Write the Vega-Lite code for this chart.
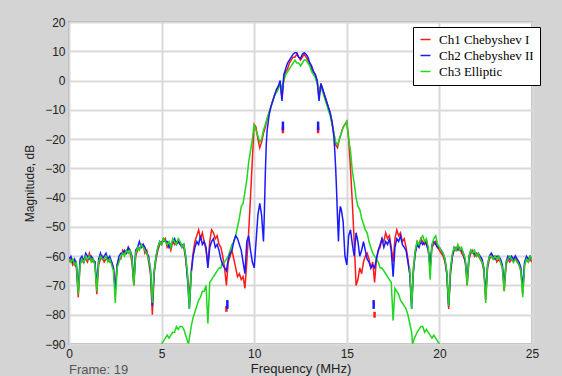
{
"$schema": "https://vega.github.io/schema/vega-lite/v6.json",
"width": 463, "height": 322,
"autosize": {"type": "none"},
"padding": {"left": 69, "top": 22, "right": 30, "bottom": 32},
"background": "#d4d4d4",
"title": {"text": "Frame: 19", "orient": "bottom", "anchor": "start", "frame": "group", "font": "Liberation Sans", "fontSize": 13, "fontWeight": "normal", "color": "#555555", "offset": -11},
"config": {
  "view": {"fill": "white", "stroke": "#9a9a9a", "strokeWidth": 1.5},
  "axis": {"grid": true, "gridColor": "#d9d9d9", "gridWidth": 2, "ticks": false, "domain": false, "labelFont": "Liberation Sans", "labelFontSize": 12, "labelColor": "#222222", "titleFont": "Liberation Sans", "titleFontWeight": "normal", "titleColor": "#222222", "labelFlush": false, "labelPadding": 4}
},
"datasets": {
"red": [
{"f":0,"v":-62},{"f":0.1,"v":-61},{"f":0.2,"v":-63},{"f":0.3,"v":-62},{"f":0.4,"v":-64},{"f":0.5,"v":-74},{"f":0.6,"v":-62},{"f":0.7,"v":-62},{"f":0.8,"v":-61},{"f":0.9,"v":-61},
{"f":1,"v":-62},{"f":1.1,"v":-59},{"f":1.2,"v":-61},{"f":1.3,"v":-62},{"f":1.4,"v":-62},{"f":1.5,"v":-73},{"f":1.6,"v":-63},{"f":1.7,"v":-61},{"f":1.8,"v":-60},{"f":1.9,"v":-62},
{"f":2,"v":-61},{"f":2.1,"v":-61},{"f":2.2,"v":-62},{"f":2.3,"v":-62},{"f":2.4,"v":-64},{"f":2.5,"v":-71},{"f":2.6,"v":-63},{"f":2.7,"v":-61},{"f":2.8,"v":-61},{"f":2.9,"v":-58},
{"f":3,"v":-59},{"f":3.1,"v":-59},{"f":3.2,"v":-57},{"f":3.3,"v":-59},{"f":3.4,"v":-62},{"f":3.5,"v":-70},{"f":3.6,"v":-60},{"f":3.7,"v":-58},{"f":3.8,"v":-57},{"f":3.9,"v":-57},
{"f":4,"v":-56},{"f":4.1,"v":-59},{"f":4.2,"v":-58},{"f":4.3,"v":-62},{"f":4.4,"v":-66},{"f":4.5,"v":-80},{"f":4.6,"v":-66},{"f":4.7,"v":-61},{"f":4.8,"v":-58},{"f":4.9,"v":-56},
{"f":5,"v":-55},{"f":5.1,"v":-55},{"f":5.2,"v":-54},{"f":5.3,"v":-57},{"f":5.4,"v":-56},{"f":5.5,"v":-58},{"f":5.6,"v":-55},{"f":5.7,"v":-56},{"f":5.8,"v":-55},{"f":5.9,"v":-55},
{"f":6,"v":-56},{"f":6.1,"v":-56},{"f":6.2,"v":-57},{"f":6.3,"v":-61},{"f":6.4,"v":-67},{"f":6.5,"v":-74},{"f":6.6,"v":-65},{"f":6.7,"v":-59},{"f":6.8,"v":-55},{"f":6.9,"v":-53},
{"f":7,"v":-51},{"f":7.1,"v":-54},{"f":7.2,"v":-52},{"f":7.3,"v":-55},{"f":7.4,"v":-58},{"f":7.5,"v":-63},{"f":7.6,"v":-55},{"f":7.7,"v":-51},{"f":7.8,"v":-52},{"f":7.9,"v":-54},
{"f":8,"v":-53},{"f":8.1,"v":-56},{"f":8.2,"v":-57},{"f":8.3,"v":-60},{"f":8.4,"v":-64},{"f":8.5,"v":-70},{"f":8.6,"v":-62},{"f":8.7,"v":-60},{"f":8.8,"v":-58},{"f":8.9,"v":-61},
{"f":9,"v":-64},{"f":9.1,"v":-67},{"f":9.2,"v":-66},{"f":9.3,"v":-68},{"f":9.4,"v":-67},{"f":9.5,"v":-71},{"f":9.6,"v":-62},{"f":9.7,"v":-52},{"f":9.8,"v":-40},{"f":9.9,"v":-27},
{"f":10,"v":-15},{"f":10.1,"v":-16},{"f":10.2,"v":-20},{"f":10.3,"v":-23},{"f":10.4,"v":-21},{"f":10.5,"v":-18},{"f":10.6,"v":-16},{"f":10.7,"v":-13},{"f":10.8,"v":-11},{"f":10.9,"v":-9},
{"f":11,"v":-7},{"f":11.1,"v":-5},{"f":11.2,"v":-4},{"f":11.3,"v":-2},{"f":11.4,"v":-1},{"f":11.5,"v":-6},{"f":11.6,"v":1},{"f":11.7,"v":3},{"f":11.8,"v":4},{"f":11.9,"v":6},
{"f":12,"v":7},{"f":12.1,"v":8},{"f":12.2,"v":8},{"f":12.3,"v":9},{"f":12.4,"v":8},{"f":12.5,"v":7},{"f":12.6,"v":8},{"f":12.7,"v":9},{"f":12.8,"v":8},{"f":12.9,"v":7},
{"f":13,"v":6},{"f":13.1,"v":4},{"f":13.2,"v":3},{"f":13.3,"v":2},{"f":13.4,"v":0},{"f":13.5,"v":-6},{"f":13.6,"v":-1},{"f":13.7,"v":-3},{"f":13.8,"v":-5},{"f":13.9,"v":-7},
{"f":14,"v":-9},{"f":14.1,"v":-11},{"f":14.2,"v":-14},{"f":14.3,"v":-18},{"f":14.4,"v":-22},{"f":14.5,"v":-23},{"f":14.6,"v":-20},{"f":14.7,"v":-18},{"f":14.8,"v":-16},{"f":14.9,"v":-15},
{"f":15,"v":-14},{"f":15.1,"v":-20},{"f":15.2,"v":-30},{"f":15.3,"v":-42},{"f":15.4,"v":-55},{"f":15.5,"v":-70},{"f":15.6,"v":-68},{"f":15.7,"v":-64},{"f":15.8,"v":-66},{"f":15.9,"v":-62},
{"f":16,"v":-60},{"f":16.1,"v":-59},{"f":16.2,"v":-61},{"f":16.3,"v":-64},{"f":16.4,"v":-62},{"f":16.5,"v":-69},{"f":16.6,"v":-61},{"f":16.7,"v":-58},{"f":16.8,"v":-57},{"f":16.9,"v":-54},
{"f":17,"v":-55},{"f":17.1,"v":-52},{"f":17.2,"v":-54},{"f":17.3,"v":-53},{"f":17.4,"v":-57},{"f":17.5,"v":-62},{"f":17.6,"v":-54},{"f":17.7,"v":-51},{"f":17.8,"v":-53},{"f":17.9,"v":-52},
{"f":18,"v":-55},{"f":18.1,"v":-54},{"f":18.2,"v":-57},{"f":18.3,"v":-61},{"f":18.4,"v":-66},{"f":18.5,"v":-76},{"f":18.6,"v":-64},{"f":18.7,"v":-58},{"f":18.8,"v":-55},{"f":18.9,"v":-56},
{"f":19,"v":-54},{"f":19.1,"v":-55},{"f":19.2,"v":-56},{"f":19.3,"v":-55},{"f":19.4,"v":-58},{"f":19.5,"v":-64},{"f":19.6,"v":-57},{"f":19.7,"v":-56},{"f":19.8,"v":-55},{"f":19.9,"v":-57},
{"f":20,"v":-58},{"f":20.1,"v":-59},{"f":20.2,"v":-60},{"f":20.3,"v":-62},{"f":20.4,"v":-66},{"f":20.5,"v":-78},{"f":20.6,"v":-66},{"f":20.7,"v":-60},{"f":20.8,"v":-58},{"f":20.9,"v":-57},
{"f":21,"v":-58},{"f":21.1,"v":-57},{"f":21.2,"v":-59},{"f":21.3,"v":-60},{"f":21.4,"v":-62},{"f":21.5,"v":-70},{"f":21.6,"v":-61},{"f":21.7,"v":-59},{"f":21.8,"v":-58},{"f":21.9,"v":-60},
{"f":22,"v":-59},{"f":22.1,"v":-60},{"f":22.2,"v":-61},{"f":22.3,"v":-62},{"f":22.4,"v":-65},{"f":22.5,"v":-75},{"f":22.6,"v":-64},{"f":22.7,"v":-61},{"f":22.8,"v":-60},{"f":22.9,"v":-61},
{"f":23,"v":-60},{"f":23.1,"v":-62},{"f":23.2,"v":-61},{"f":23.3,"v":-62},{"f":23.4,"v":-64},{"f":23.5,"v":-72},{"f":23.6,"v":-63},{"f":23.7,"v":-61},{"f":23.8,"v":-62},{"f":23.9,"v":-61},
{"f":24,"v":-62},{"f":24.1,"v":-60},{"f":24.2,"v":-62},{"f":24.3,"v":-63},{"f":24.4,"v":-65},{"f":24.5,"v":-73},{"f":24.6,"v":-63},{"f":24.7,"v":-61},{"f":24.8,"v":-62},{"f":24.9,"v":-61},
{"f":25,"v":-62}
],
"blue": [
{"f":0,"v":-61},{"f":0.1,"v":-60},{"f":0.2,"v":-62},{"f":0.3,"v":-61},{"f":0.4,"v":-63},{"f":0.5,"v":-72},{"f":0.6,"v":-61},{"f":0.7,"v":-60},{"f":0.8,"v":-62},{"f":0.9,"v":-59},
{"f":1,"v":-60},{"f":1.1,"v":-61},{"f":1.2,"v":-60},{"f":1.3,"v":-61},{"f":1.4,"v":-62},{"f":1.5,"v":-70},{"f":1.6,"v":-61},{"f":1.7,"v":-59},{"f":1.8,"v":-61},{"f":1.9,"v":-60},
{"f":2,"v":-59},{"f":2.1,"v":-61},{"f":2.2,"v":-60},{"f":2.3,"v":-62},{"f":2.4,"v":-64},{"f":2.5,"v":-72},{"f":2.6,"v":-63},{"f":2.7,"v":-60},{"f":2.8,"v":-59},{"f":2.9,"v":-59},
{"f":3,"v":-58},{"f":3.1,"v":-59},{"f":3.2,"v":-57},{"f":3.3,"v":-58},{"f":3.4,"v":-60},{"f":3.5,"v":-69},{"f":3.6,"v":-58},{"f":3.7,"v":-57},{"f":3.8,"v":-55},{"f":3.9,"v":-57},
{"f":4,"v":-56},{"f":4.1,"v":-57},{"f":4.2,"v":-59},{"f":4.3,"v":-60},{"f":4.4,"v":-65},{"f":4.5,"v":-77},{"f":4.6,"v":-65},{"f":4.7,"v":-60},{"f":4.8,"v":-57},{"f":4.9,"v":-55},
{"f":5,"v":-56},{"f":5.1,"v":-54},{"f":5.2,"v":-55},{"f":5.3,"v":-55},{"f":5.4,"v":-57},{"f":5.5,"v":-56},{"f":5.6,"v":-55},{"f":5.7,"v":-54},{"f":5.8,"v":-56},{"f":5.9,"v":-55},
{"f":6,"v":-56},{"f":6.1,"v":-57},{"f":6.2,"v":-56},{"f":6.3,"v":-60},{"f":6.4,"v":-68},{"f":6.5,"v":-78},{"f":6.6,"v":-66},{"f":6.7,"v":-60},{"f":6.8,"v":-57},{"f":6.9,"v":-55},
{"f":7,"v":-56},{"f":7.1,"v":-53},{"f":7.2,"v":-56},{"f":7.3,"v":-55},{"f":7.4,"v":-57},{"f":7.5,"v":-64},{"f":7.6,"v":-57},{"f":7.7,"v":-55},{"f":7.8,"v":-54},{"f":7.9,"v":-57},
{"f":8,"v":-56},{"f":8.1,"v":-58},{"f":8.2,"v":-61},{"f":8.3,"v":-63},{"f":8.4,"v":-64},{"f":8.5,"v":-65},{"f":8.6,"v":-61},{"f":8.7,"v":-59},{"f":8.8,"v":-58},{"f":8.9,"v":-55},
{"f":9,"v":-53},{"f":9.1,"v":-54},{"f":9.2,"v":-56},{"f":9.3,"v":-58},{"f":9.4,"v":-62},{"f":9.5,"v":-66},{"f":9.6,"v":-55},{"f":9.7,"v":-53},{"f":9.8,"v":-58},{"f":9.9,"v":-62},
{"f":10,"v":-64},{"f":10.1,"v":-55},{"f":10.2,"v":-46},{"f":10.3,"v":-42},{"f":10.4,"v":-46},{"f":10.5,"v":-55},{"f":10.55,"v":-45},{"f":10.6,"v":-32},{"f":10.65,"v":-22},{"f":10.7,"v":-17},{"f":10.8,"v":-12},{"f":10.9,"v":-9},
{"f":11,"v":-7},{"f":11.1,"v":-5},{"f":11.2,"v":-3},{"f":11.3,"v":-2},{"f":11.4,"v":0},{"f":11.5,"v":-7},{"f":11.6,"v":2},{"f":11.7,"v":4},{"f":11.8,"v":6},{"f":11.9,"v":7},
{"f":12,"v":8},{"f":12.1,"v":9},{"f":12.2,"v":9.5},{"f":12.3,"v":9.5},{"f":12.4,"v":8},{"f":12.5,"v":7.5},{"f":12.6,"v":9},{"f":12.7,"v":9.5},{"f":12.8,"v":9},{"f":12.9,"v":8},
{"f":13,"v":6},{"f":13.1,"v":5},{"f":13.2,"v":3},{"f":13.3,"v":2},{"f":13.4,"v":0},{"f":13.5,"v":-7},{"f":13.6,"v":-1},{"f":13.7,"v":-3},{"f":13.8,"v":-5},{"f":13.9,"v":-7},
{"f":14,"v":-9},{"f":14.1,"v":-11},{"f":14.2,"v":-14},{"f":14.3,"v":-19},{"f":14.35,"v":-24},{"f":14.4,"v":-30},{"f":14.45,"v":-38},{"f":14.5,"v":-47},{"f":14.55,"v":-55},{"f":14.6,"v":-46},{"f":14.65,"v":-43},{"f":14.7,"v":-44},{"f":14.8,"v":-48},{"f":14.9,"v":-60},
{"f":15,"v":-63},{"f":15.1,"v":-53},{"f":15.2,"v":-51},{"f":15.3,"v":-56},{"f":15.4,"v":-60},{"f":15.5,"v":-52},{"f":15.6,"v":-55},{"f":15.7,"v":-60},{"f":15.8,"v":-58},{"f":15.9,"v":-55},
{"f":16,"v":-58},{"f":16.1,"v":-61},{"f":16.2,"v":-62},{"f":16.3,"v":-64},{"f":16.4,"v":-63},{"f":16.5,"v":-64},{"f":16.6,"v":-61},{"f":16.7,"v":-58},{"f":16.8,"v":-56},{"f":16.9,"v":-54},
{"f":17,"v":-57},{"f":17.1,"v":-55},{"f":17.2,"v":-56},{"f":17.3,"v":-54},{"f":17.4,"v":-58},{"f":17.5,"v":-67},{"f":17.6,"v":-57},{"f":17.7,"v":-54},{"f":17.8,"v":-55},{"f":17.9,"v":-53},
{"f":18,"v":-56},{"f":18.1,"v":-57},{"f":18.2,"v":-58},{"f":18.3,"v":-62},{"f":18.4,"v":-66},{"f":18.5,"v":-78},{"f":18.6,"v":-65},{"f":18.7,"v":-59},{"f":18.8,"v":-56},{"f":18.9,"v":-57},
{"f":19,"v":-55},{"f":19.1,"v":-56},{"f":19.2,"v":-55},{"f":19.3,"v":-56},{"f":19.4,"v":-58},{"f":19.5,"v":-63},{"f":19.6,"v":-56},{"f":19.7,"v":-55},{"f":19.8,"v":-56},{"f":19.9,"v":-57},
{"f":20,"v":-57},{"f":20.1,"v":-58},{"f":20.2,"v":-59},{"f":20.3,"v":-61},{"f":20.4,"v":-66},{"f":20.5,"v":-77},{"f":20.6,"v":-65},{"f":20.7,"v":-60},{"f":20.8,"v":-57},{"f":20.9,"v":-58},
{"f":21,"v":-57},{"f":21.1,"v":-58},{"f":21.2,"v":-58},{"f":21.3,"v":-59},{"f":21.4,"v":-62},{"f":21.5,"v":-68},{"f":21.6,"v":-60},{"f":21.7,"v":-58},{"f":21.8,"v":-59},{"f":21.9,"v":-59},
{"f":22,"v":-60},{"f":22.1,"v":-59},{"f":22.2,"v":-60},{"f":22.3,"v":-61},{"f":22.4,"v":-64},{"f":22.5,"v":-73},{"f":22.6,"v":-63},{"f":22.7,"v":-60},{"f":22.8,"v":-59},{"f":22.9,"v":-60},
{"f":23,"v":-61},{"f":23.1,"v":-60},{"f":23.2,"v":-60},{"f":23.3,"v":-61},{"f":23.4,"v":-63},{"f":23.5,"v":-70},{"f":23.6,"v":-62},{"f":23.7,"v":-60},{"f":23.8,"v":-61},{"f":23.9,"v":-60},
{"f":24,"v":-61},{"f":24.1,"v":-60},{"f":24.2,"v":-61},{"f":24.3,"v":-62},{"f":24.4,"v":-64},{"f":24.5,"v":-71},{"f":24.6,"v":-62},{"f":24.7,"v":-60},{"f":24.8,"v":-61},{"f":24.9,"v":-60},
{"f":25,"v":-61}
],
"greenMain": [
{"f":5,"v":-90},{"f":5.1,"v":-89},{"f":5.2,"v":-88},{"f":5.3,"v":-87},{"f":5.4,"v":-88},{"f":5.5,"v":-87},{"f":5.6,"v":-86},{"f":5.7,"v":-86},{"f":5.8,"v":-84},{"f":5.9,"v":-85},
{"f":6,"v":-84},{"f":6.1,"v":-84},{"f":6.2,"v":-85},{"f":6.3,"v":-87},{"f":6.4,"v":-89},{"f":6.45,"v":-90},{"f":6.55,"v":-86},{"f":6.6,"v":-84},{"f":6.7,"v":-81},{"f":6.8,"v":-79},{"f":6.9,"v":-77},
{"f":7,"v":-75},{"f":7.1,"v":-74},{"f":7.2,"v":-72},{"f":7.3,"v":-72},{"f":7.4,"v":-70},{"f":7.5,"v":-83},{"f":7.6,"v":-69},{"f":7.7,"v":-68},{"f":7.8,"v":-67},{"f":7.9,"v":-66},
{"f":8,"v":-65},{"f":8.1,"v":-64},{"f":8.2,"v":-64},{"f":8.3,"v":-62},{"f":8.4,"v":-62},{"f":8.5,"v":-61},{"f":8.6,"v":-60},{"f":8.7,"v":-58},{"f":8.8,"v":-56},{"f":8.9,"v":-55},
{"f":9,"v":-53},{"f":9.1,"v":-50},{"f":9.2,"v":-47},{"f":9.3,"v":-43},{"f":9.4,"v":-42},{"f":9.5,"v":-38},{"f":9.6,"v":-34},{"f":9.7,"v":-28},{"f":9.8,"v":-24},{"f":9.9,"v":-20},
{"f":10,"v":-15},{"f":10.1,"v":-17},{"f":10.2,"v":-19},{"f":10.3,"v":-21},{"f":10.4,"v":-20},{"f":10.5,"v":-17},{"f":10.6,"v":-15},{"f":10.7,"v":-13},{"f":10.8,"v":-11},{"f":10.9,"v":-9},
{"f":11,"v":-7},{"f":11.1,"v":-5},{"f":11.2,"v":-4},{"f":11.3,"v":-3},{"f":11.4,"v":-1},{"f":11.5,"v":-3},{"f":11.6,"v":0},{"f":11.7,"v":2},{"f":11.8,"v":3},{"f":11.9,"v":4},
{"f":12,"v":5},{"f":12.1,"v":6},{"f":12.2,"v":7},{"f":12.3,"v":6},{"f":12.4,"v":6},{"f":12.5,"v":5},{"f":12.6,"v":6},{"f":12.7,"v":7},{"f":12.8,"v":7},{"f":12.9,"v":6},
{"f":13,"v":5},{"f":13.1,"v":3},{"f":13.2,"v":2},{"f":13.3,"v":1},{"f":13.4,"v":-1},{"f":13.5,"v":-3},{"f":13.6,"v":-2},{"f":13.7,"v":-4},{"f":13.8,"v":-6},{"f":13.9,"v":-8},
{"f":14,"v":-10},{"f":14.1,"v":-12},{"f":14.2,"v":-15},{"f":14.3,"v":-18},{"f":14.4,"v":-21},{"f":14.5,"v":-22},{"f":14.6,"v":-20},{"f":14.7,"v":-18},{"f":14.8,"v":-16},{"f":14.9,"v":-15},
{"f":15,"v":-14},{"f":15.1,"v":-20},{"f":15.2,"v":-24},{"f":15.3,"v":-31},{"f":15.4,"v":-35},{"f":15.5,"v":-40},{"f":15.6,"v":-43},{"f":15.7,"v":-44},{"f":15.8,"v":-47},{"f":15.9,"v":-49},
{"f":16,"v":-51},{"f":16.1,"v":-52},{"f":16.2,"v":-55},{"f":16.3,"v":-57},{"f":16.4,"v":-59},{"f":16.5,"v":-60},{"f":16.6,"v":-61},{"f":16.7,"v":-62},{"f":16.8,"v":-64},{"f":16.9,"v":-64},
{"f":17,"v":-65},{"f":17.1,"v":-66},{"f":17.2,"v":-67},{"f":17.3,"v":-68},{"f":17.4,"v":-69},{"f":17.5,"v":-82},{"f":17.6,"v":-71},{"f":17.7,"v":-72},{"f":17.8,"v":-73},{"f":17.9,"v":-75},
{"f":18,"v":-76},{"f":18.1,"v":-77},{"f":18.2,"v":-78},{"f":18.3,"v":-80},{"f":18.4,"v":-83},{"f":18.5,"v":-86},{"f":18.55,"v":-90},{"f":18.65,"v":-88},{"f":18.8,"v":-86},{"f":18.9,"v":-85},
{"f":19,"v":-84},{"f":19.1,"v":-84},{"f":19.2,"v":-86},{"f":19.3,"v":-85},{"f":19.4,"v":-86},{"f":19.5,"v":-87},{"f":19.6,"v":-88},{"f":19.7,"v":-87},{"f":19.8,"v":-88},{"f":19.9,"v":-89},
{"f":20,"v":-90}
],
"greenFloor": [
{"k":1,"f":0,"v":-61},{"k":1,"f":0.1,"v":-62},{"k":1,"f":0.2,"v":-61},{"k":1,"f":0.3,"v":-63},{"k":1,"f":0.4,"v":-62},{"k":1,"f":0.5,"v":-73},{"k":1,"f":0.6,"v":-63},{"k":1,"f":0.7,"v":-61},{"k":1,"f":0.8,"v":-62},{"k":1,"f":0.9,"v":-60},
{"k":1,"f":1,"v":-61},{"k":1,"f":1.1,"v":-60},{"k":1,"f":1.2,"v":-62},{"k":1,"f":1.3,"v":-61},{"k":1,"f":1.4,"v":-63},{"k":1,"f":1.5,"v":-72},{"k":1,"f":1.6,"v":-62},{"k":1,"f":1.7,"v":-60},{"k":1,"f":1.8,"v":-61},{"k":1,"f":1.9,"v":-61},
{"k":1,"f":2,"v":-60},{"k":1,"f":2.1,"v":-62},{"k":1,"f":2.2,"v":-61},{"k":1,"f":2.3,"v":-63},{"k":1,"f":2.4,"v":-65},{"k":1,"f":2.5,"v":-76},{"k":1,"f":2.6,"v":-64},{"k":1,"f":2.7,"v":-62},{"k":1,"f":2.8,"v":-60},{"k":1,"f":2.9,"v":-59},
{"k":1,"f":3,"v":-60},{"k":1,"f":3.1,"v":-58},{"k":1,"f":3.2,"v":-59},{"k":1,"f":3.3,"v":-58},{"k":1,"f":3.4,"v":-61},{"k":1,"f":3.5,"v":-70},{"k":1,"f":3.6,"v":-59},{"k":1,"f":3.7,"v":-57},{"k":1,"f":3.8,"v":-58},{"k":1,"f":3.9,"v":-56},
{"k":1,"f":4,"v":-57},{"k":1,"f":4.1,"v":-58},{"k":1,"f":4.2,"v":-59},{"k":1,"f":4.3,"v":-61},{"k":1,"f":4.4,"v":-64},{"k":1,"f":4.5,"v":-76},{"k":1,"f":4.6,"v":-65},{"k":1,"f":4.7,"v":-60},{"k":1,"f":4.8,"v":-57},{"k":1,"f":4.9,"v":-55},
{"k":1,"f":5,"v":-56},{"k":1,"f":5.1,"v":-54},{"k":1,"f":5.2,"v":-55},{"k":1,"f":5.3,"v":-56},{"k":1,"f":5.4,"v":-55},{"k":1,"f":5.5,"v":-57},{"k":1,"f":5.6,"v":-54},{"k":1,"f":5.7,"v":-55},{"k":1,"f":5.8,"v":-56},{"k":1,"f":5.9,"v":-54},
{"k":1,"f":6,"v":-55},{"k":1,"f":6.1,"v":-57},{"k":1,"f":6.2,"v":-56},{"k":1,"f":6.3,"v":-60},{"k":1,"f":6.4,"v":-66},{"k":1,"f":6.5,"v":-78},{"k":1,"f":6.6,"v":-65},
{"k":2,"f":18.4,"v":-64},{"k":2,"f":18.5,"v":-78},{"k":2,"f":18.6,"v":-64},{"k":2,"f":18.7,"v":-58},{"k":2,"f":18.8,"v":-55},{"k":2,"f":18.9,"v":-56},
{"k":2,"f":19,"v":-54},{"k":2,"f":19.1,"v":-53},{"k":2,"f":19.2,"v":-55},{"k":2,"f":19.3,"v":-54},{"k":2,"f":19.4,"v":-57},{"k":2,"f":19.5,"v":-68},{"k":2,"f":19.6,"v":-56},{"k":2,"f":19.7,"v":-54},{"k":2,"f":19.8,"v":-53},{"k":2,"f":19.9,"v":-56},
{"k":2,"f":20,"v":-57},{"k":2,"f":20.1,"v":-58},{"k":2,"f":20.2,"v":-59},{"k":2,"f":20.3,"v":-61},{"k":2,"f":20.4,"v":-65},{"k":2,"f":20.5,"v":-77},{"k":2,"f":20.6,"v":-64},{"k":2,"f":20.7,"v":-59},{"k":2,"f":20.8,"v":-57},{"k":2,"f":20.9,"v":-58},
{"k":2,"f":21,"v":-56},{"k":2,"f":21.1,"v":-58},{"k":2,"f":21.2,"v":-57},{"k":2,"f":21.3,"v":-59},{"k":2,"f":21.4,"v":-61},{"k":2,"f":21.5,"v":-70},{"k":2,"f":21.6,"v":-60},{"k":2,"f":21.7,"v":-58},{"k":2,"f":21.8,"v":-59},{"k":2,"f":21.9,"v":-58},
{"k":2,"f":22,"v":-60},{"k":2,"f":22.1,"v":-59},{"k":2,"f":22.2,"v":-61},{"k":2,"f":22.3,"v":-62},{"k":2,"f":22.4,"v":-64},{"k":2,"f":22.5,"v":-76},{"k":2,"f":22.6,"v":-63},{"k":2,"f":22.7,"v":-60},{"k":2,"f":22.8,"v":-60},{"k":2,"f":22.9,"v":-61},
{"k":2,"f":23,"v":-60},{"k":2,"f":23.1,"v":-61},{"k":2,"f":23.2,"v":-60},{"k":2,"f":23.3,"v":-62},{"k":2,"f":23.4,"v":-64},{"k":2,"f":23.5,"v":-72},{"k":2,"f":23.6,"v":-62},{"k":2,"f":23.7,"v":-61},{"k":2,"f":23.8,"v":-60},{"k":2,"f":23.9,"v":-61},
{"k":2,"f":24,"v":-62},{"k":2,"f":24.1,"v":-61},{"k":2,"f":24.2,"v":-62},{"k":2,"f":24.3,"v":-63},{"k":2,"f":24.4,"v":-65},{"k":2,"f":24.5,"v":-74},{"k":2,"f":24.6,"v":-63},{"k":2,"f":24.7,"v":-61},{"k":2,"f":24.8,"v":-62},{"k":2,"f":24.9,"v":-60},
{"k":2,"f":25,"v":-61}
],
"fragRed": [
{"k":1,"f":11.55,"v":-16},{"k":1,"f":11.55,"v":-18},
{"k":2,"f":13.45,"v":-16},{"k":2,"f":13.45,"v":-18},
{"k":3,"f":8.5,"v":-77},{"k":3,"f":8.5,"v":-79},
{"k":4,"f":16.5,"v":-79},{"k":4,"f":16.5,"v":-81}
],
"fragBlue": [
{"k":1,"f":8.55,"v":-75},{"k":1,"f":8.55,"v":-78},
{"k":2,"f":16.45,"v":-75},{"k":2,"f":16.45,"v":-78},
{"k":3,"f":11.55,"v":-14},{"k":3,"f":11.55,"v":-17},
{"k":4,"f":13.45,"v":-14},{"k":4,"f":13.45,"v":-17}
]
},
"encoding": {
  "x": {"field": "f", "type": "quantitative", "scale": {"domain": [0, 25], "nice": false, "zero": false},
        "axis": {"values": [0, 5, 10, 15, 20, 25], "title": "Frequency (MHz)", "titleFontSize": 13, "titlePadding": 3}},
  "y": {"field": "v", "type": "quantitative", "scale": {"domain": [-90, 20], "nice": false, "zero": false},
        "axis": {"values": [-90, -80, -70, -60, -50, -40, -30, -20, -10, 0, 10, 20], "title": "Magnitude, dB", "titleFontSize": 12, "titlePadding": 8}}
},
"layer": [
  {"data": {"name": "red"}, "mark": {"type": "line", "strokeWidth": 1.5, "clip": true},
   "encoding": {"color": {"datum": "Ch1 Chebyshev I", "type": "nominal",
     "scale": {"domain": ["Ch1 Chebyshev I", "Ch2 Chebyshev II", "Ch3 Elliptic"], "range": ["#ff1a1a", "#1a1aff", "#1ed81e"]},
     "legend": {"orient": "none", "legendX": 344, "legendY": 5, "title": null, "symbolType": "stroke", "symbolSize": 100, "symbolStrokeWidth": 1.5, "labelFont": "Liberation Serif", "labelFontSize": 13, "labelColor": "#000000", "strokeColor": "#000000", "fillColor": "#ffffff", "padding": 6, "rowPadding": 2, "labelOffset": 7}}}},
  {"data": {"name": "greenMain"}, "mark": {"type": "line", "strokeWidth": 1.5, "clip": true},
   "encoding": {"color": {"datum": "Ch3 Elliptic", "type": "nominal"}}},
  {"data": {"name": "blue"}, "mark": {"type": "line", "strokeWidth": 1.5, "clip": true},
   "encoding": {"color": {"datum": "Ch2 Chebyshev II", "type": "nominal"}}},
  {"data": {"name": "greenFloor"}, "mark": {"type": "line", "strokeWidth": 1.5, "clip": true},
   "encoding": {"color": {"datum": "Ch3 Elliptic", "type": "nominal"}, "detail": {"field": "k", "type": "nominal"}}},
  {"data": {"name": "fragRed"}, "mark": {"type": "line", "strokeWidth": 2.5, "clip": true},
   "encoding": {"color": {"datum": "Ch1 Chebyshev I", "type": "nominal"}, "detail": {"field": "k", "type": "nominal"}}},
  {"data": {"name": "fragBlue"}, "mark": {"type": "line", "strokeWidth": 2.5, "clip": true},
   "encoding": {"color": {"datum": "Ch2 Chebyshev II", "type": "nominal"}, "detail": {"field": "k", "type": "nominal"}}}
]
}
